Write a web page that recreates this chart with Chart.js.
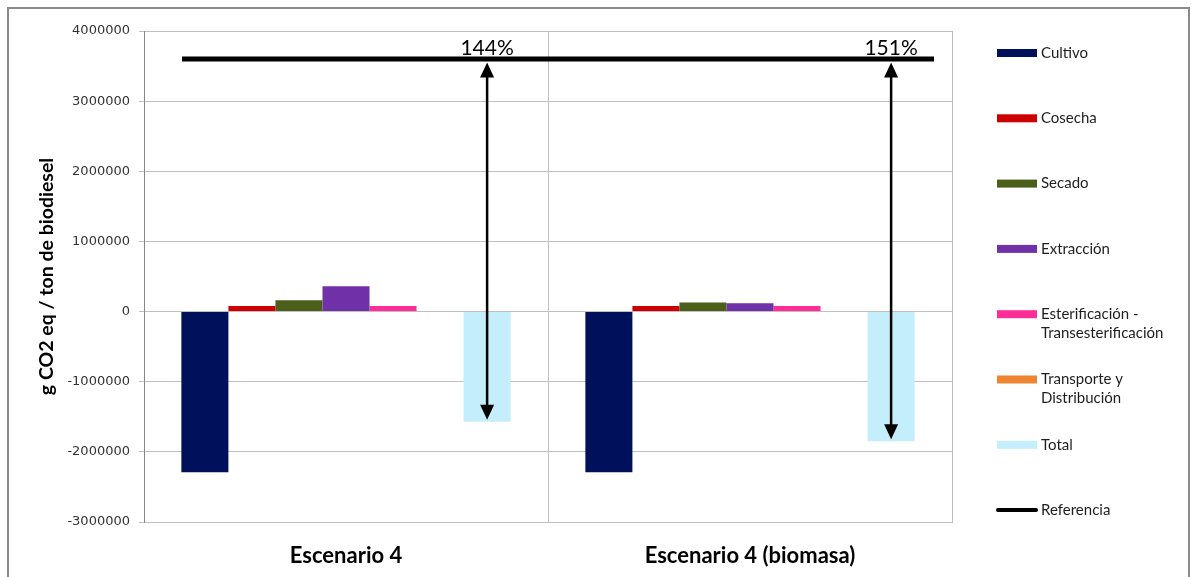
<!DOCTYPE html>
<html lang="es">
<head>
<meta charset="utf-8">
<title>Emisiones por etapa – Escenario 4</title>
<script src="https://cdn.jsdelivr.net/npm/chart.js@4.4.1/dist/chart.umd.min.js"></script>
<style>
  html, body { margin: 0; padding: 0; background: #ffffff; }
  canvas { display: block; }
</style>
</head>
<body>
<canvas id="chart" width="1191" height="577"></canvas>
<script>
// Escenarios (categorías del eje X)
const escenarios = ['Escenario 4', 'Escenario 4 (biomasa)'];

// Emisiones por etapa, g CO2 eq / ton de biodiesel
const cultivo        = [-2290000, -2290000];
const cosecha        = [80000, 80000];
const secado         = [160000, 130000];
const extraccion     = [360000, 120000];
const esterificacion = [80000, 80000];
const transporte     = [0, 0];
const total          = [-1570000, -1850000];

// Valor de referencia (diésel fósil)
const referencia = [3600000];

// Marcas del eje Y
const ejeYMin = -3000000;
const ejeYMax = 4000000;
const ejeYPaso = 1000000;

const series = [
  { label: 'Cultivo', data: cultivo, color: '#00105a' },
  { label: 'Cosecha', data: cosecha, color: '#cc0000' },
  { label: 'Secado', data: secado, color: '#4b5f1b' },
  { label: 'Extracción', data: extraccion, color: '#7030a8' },
  { label: ['Esterificación -', 'Transesterificación'], data: esterificacion, color: '#ff2e96' },
  { label: ['Transporte y', 'Distribución'], data: transporte, color: '#ee8533' },
  { label: 'Total', data: total, color: '#c4eefb' }
];

const FONT = 'Lato, "Open Sans", sans-serif';

// Línea de referencia, flechas de reducción y porcentajes
const referenciaPlugin = {
  id: 'referencia',
  afterDatasetsDraw(chart) {
    const { ctx, chartArea, scales } = chart;
    const y = scales.y;
    const refY = y.getPixelForValue(referencia[0]);

    ctx.save();
    // línea horizontal de referencia
    ctx.strokeStyle = '#000000';
    ctx.lineWidth = 5;
    ctx.lineCap = 'butt';
    ctx.beginPath();
    ctx.moveTo(chartArea.left + 38, refY);
    ctx.lineTo(chartArea.right - 18, refY);
    ctx.stroke();

    // flechas dobles desde la referencia hasta el total de cada escenario
    const totalMeta = chart.getDatasetMeta(series.length - 1);
    totalMeta.data.forEach((bar, i) => {
      const x = bar.x;
      const yTop = refY + 3.5;
      const yBot = y.getPixelForValue(total[i]) - 2;
      const headW = 7, headH = 15;
      ctx.strokeStyle = '#000000';
      ctx.fillStyle = '#000000';
      ctx.lineWidth = 2.5;
      ctx.beginPath();
      ctx.moveTo(x, yTop + headH - 1);
      ctx.lineTo(x, yBot - headH + 1);
      ctx.stroke();
      ctx.beginPath();
      ctx.moveTo(x, yTop);
      ctx.lineTo(x - headW, yTop + headH);
      ctx.lineTo(x + headW, yTop + headH);
      ctx.closePath();
      ctx.fill();
      ctx.beginPath();
      ctx.moveTo(x, yBot);
      ctx.lineTo(x - headW, yBot - headH);
      ctx.lineTo(x + headW, yBot - headH);
      ctx.closePath();
      ctx.fill();

      // porcentaje de reducción respecto a la referencia
      const pct = Math.round((referencia[0] - total[i]) / referencia[0] * 100);
      ctx.font = '21px ' + FONT;
      ctx.textAlign = 'center';
      ctx.textBaseline = 'alphabetic';
      ctx.fillText(pct + '%', x, refY - 4);
    });
    ctx.restore();
  }
};

// Leyenda a la derecha y marco exterior
const leyendaPlugin = {
  id: 'leyenda',
  beforeDraw(chart) {
    const { ctx } = chart;
    ctx.save();
    ctx.fillStyle = '#ffffff';
    ctx.fillRect(0, 0, chart.width, chart.height);
    ctx.strokeStyle = '#8a8a8a';
    ctx.lineWidth = 2;
    ctx.strokeRect(8, 8, chart.width - 10, chart.height + 20);
    ctx.restore();
  },
  afterDraw(chart) {
    const { ctx } = chart;
    const x0 = 997, sw = 40, y0 = 53, step = 65.3, lineH = 18.5;
    ctx.save();
    ctx.font = '15px ' + FONT;
    ctx.textAlign = 'left';
    ctx.textBaseline = 'middle';
    const items = series.map(s => ({ label: s.label, color: s.color, type: 'bar' }));
    items.push({ label: 'Referencia', color: '#000000', type: 'line' });
    items.forEach((it, i) => {
      const cy = y0 + i * step;
      if (it.type === 'bar') {
        ctx.fillStyle = it.color;
        ctx.fillRect(x0, cy - 4, sw, 8);
      } else {
        ctx.strokeStyle = it.color;
        ctx.lineWidth = 4;
        ctx.lineCap = 'round';
        ctx.beginPath();
        ctx.moveTo(x0 + 1, cy);
        ctx.lineTo(x0 + sw - 1, cy);
        ctx.stroke();
      }
      ctx.fillStyle = '#1e1e1e';
      const lines = Array.isArray(it.label) ? it.label : [it.label];
      lines.forEach((t, k) => ctx.fillText(t, x0 + sw + 4, cy + k * lineH));
    });
    ctx.restore();
  }
};

new Chart(document.getElementById('chart'), {
  type: 'bar',
  data: {
    labels: escenarios,
    datasets: series.map(s => ({
      label: Array.isArray(s.label) ? s.label.join(' ') : s.label,
      data: s.data,
      backgroundColor: s.color,
      borderWidth: 0,
      barPercentage: 1,
      categoryPercentage: 0.815
    }))
  },
  options: {
    responsive: false,
    devicePixelRatio: 1,
    animation: false,
    layout: { padding: { left: 8, right: 239, top: 31, bottom: 0 } },
    plugins: {
      legend: { display: false },
      tooltip: { enabled: false }
    },
    scales: {
      x: {
        offset: true,
        grid: { offset: true, color: '#bfbfbf', lineWidth: 1, drawTicks: false },
        border: { display: true, color: '#bfbfbf' },
        ticks: {
          color: '#000000',
          padding: 21,
          font: { family: FONT, size: 22, weight: 'bold' }
        },
        afterFit(scale) { scale.height = 55; }
      },
      y: {
        min: ejeYMin,
        max: ejeYMax,
        grid: { color: '#bfbfbf', lineWidth: 1, drawTicks: true, tickLength: 5 },
        border: { display: true, color: '#868686' },
        ticks: {
          stepSize: ejeYPaso,
          color: '#333333',
          padding: 9,
          font: { family: '"DejaVu Sans", sans-serif', size: 13 },
          callback: v => String(v)
        },
        title: {
          display: true,
          text: 'g CO2 eq / ton de biodiesel',
          color: '#000000',
          padding: { top: 27, bottom: 0 },
          font: { family: FONT, size: 19.5, weight: 'bold' }
        },
        afterFit(scale) { scale.width = 136; }
      }
    }
  },
  plugins: [leyendaPlugin, referenciaPlugin]
});
</script>
</body>
</html>
